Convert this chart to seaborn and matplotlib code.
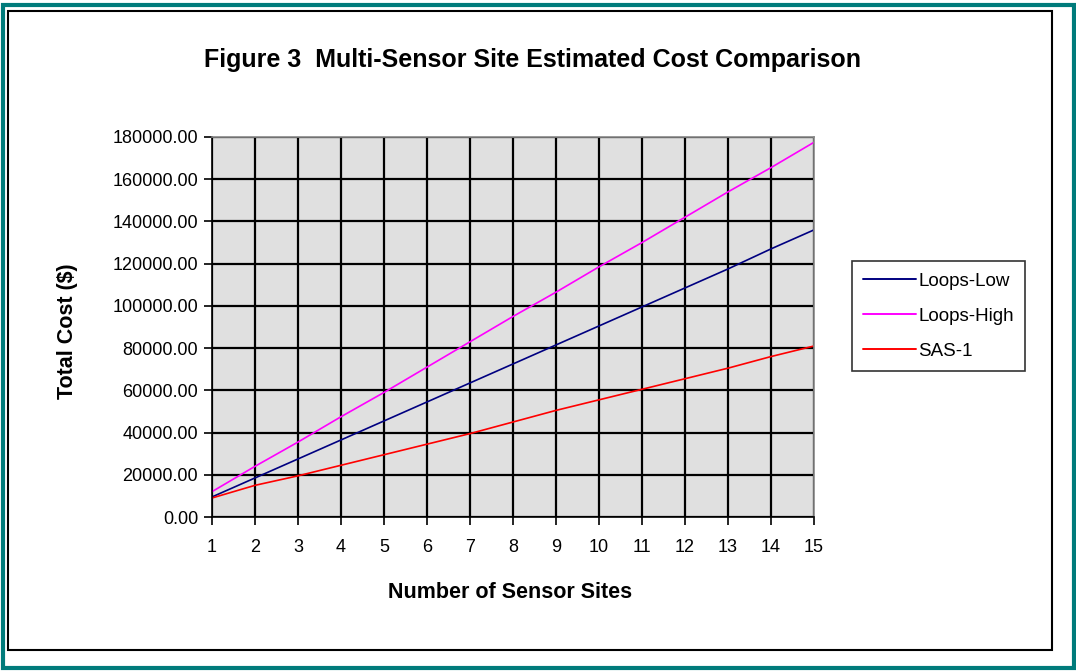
import numpy as np
import pandas as pd
import matplotlib
matplotlib.use("Agg")
import matplotlib.pyplot as plt
from matplotlib.patches import Rectangle
from matplotlib.ticker import FuncFormatter
from matplotlib.lines import Line2D
import seaborn as sns

sites = list(range(1, 16))
loops_low = [9500, 18500, 27500, 36500, 45500, 54500, 63500, 72500, 81500, 90500,
             99500, 108500, 117500, 127000, 136000]
loops_high = [12000, 24000, 35500, 47500, 59000, 71000, 83000, 95000, 106500, 118500,
              130000, 142000, 154000, 165500, 177500]
sas1 = [9000, 15000, 19500, 24500, 29500, 34500, 39500, 45000, 50500, 55500,
        60500, 65500, 70500, 76000, 81000]
series_names = ["Loops-Low", "Loops-High", "SAS-1"]
colors = ["#000080", "#FF00FF", "#FF0000"]

df = pd.DataFrame({
    "Sites": sites * 3,
    "Cost": loops_low + loops_high + sas1,
    "Series": [series_names[0]] * 15 + [series_names[1]] * 15 + [series_names[2]] * 15,
})

sns.set_theme(style="white")
plt.rcParams["font.family"] = ["Liberation Sans", "DejaVu Sans"]
plt.rcParams["text.color"] = "black"

W, H = 1076, 671
fig = plt.figure(figsize=(W / 100, H / 100), dpi=100)
fig.patch.set_facecolor("white")

L, R, T, B = 212, 814, 137, 517
ax = fig.add_axes([L / W, 1 - B / H, (R - L) / W, (B - T) / H])
ax.set_facecolor("#E0E0E0")

sns.lineplot(data=df, x="Sites", y="Cost", hue="Series", palette=colors,
             hue_order=series_names, ax=ax, linewidth=1.2, legend=False)

ax.set_xlim(1, 15)
ax.set_ylim(0, 180000)
ax.set_xticks(sites)
ax.set_yticks(np.arange(0, 180001, 20000))
ax.yaxis.set_major_formatter(FuncFormatter(lambda v, p: f"{v:.2f}"))
ax.grid(True, color="black", linewidth=1.6)
ax.set_axisbelow(True)
for s in ax.spines.values():
    s.set_color("#888888")
    s.set_linewidth(1.2)
ax.spines["bottom"].set_color("black")
ax.spines["left"].set_color("black")
ax.tick_params(axis="both", which="major", direction="out", length=6, width=1.2,
               color="black", labelsize=13, labelcolor="black",
               bottom=True, left=True)
ax.tick_params(axis="x", pad=10)
ax.tick_params(axis="y", pad=4)
ax.set_xlabel("")
ax.set_ylabel("")

fig.text(533 / W, 1 - 60 / H, "Figure 3  Multi-Sensor Site Estimated Cost Comparison",
         ha="center", va="center", fontsize=18, fontweight="bold", color="black")
fig.text(510 / W, 1 - 593 / H, "Number of Sensor Sites", ha="center", va="center",
         fontsize=15.5, fontweight="bold", color="black")
fig.text(68 / W, 1 - 331 / H, "Total Cost ($)", ha="center", va="center",
         rotation=90, fontsize=15.5, fontweight="bold", color="black")

handles = [Line2D([0], [0], color=c, lw=1.4) for c in colors]
leg = fig.legend(handles, series_names, loc="center left",
                 bbox_to_anchor=(852 / W, 1 - 316 / H), frameon=True,
                 fontsize=13.5, handlelength=2.8, handletextpad=0.15,
                 labelspacing=0.95, borderpad=0.6, borderaxespad=0,
                 fancybox=False, labelcolor="black")
leg.get_frame().set_edgecolor("black")
leg.get_frame().set_linewidth(1.2)

fig.patches.append(Rectangle((8 / W, 1 - 650 / H), (1052 - 8) / W, (650 - 11) / H,
                             transform=fig.transFigure, fill=False,
                             edgecolor="black", linewidth=1.5))
fig.patches.append(Rectangle((3 / W, 1 - 668 / H), (1074 - 3) / W, (668 - 5) / H,
                             transform=fig.transFigure, fill=False,
                             edgecolor="#007B7B", linewidth=3))

fig.savefig("out.png", dpi=100)
